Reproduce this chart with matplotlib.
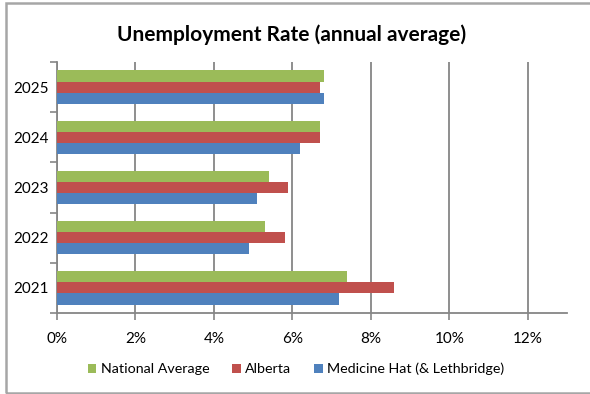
import matplotlib
matplotlib.use("Agg")
import matplotlib.pyplot as plt
import numpy as np
from matplotlib.patches import Rectangle
from matplotlib.ticker import FuncFormatter, MultipleLocator

years = ["2021", "2022", "2023", "2024", "2025"]
national = [7.4, 5.3, 5.4, 6.7, 6.8]
alberta = [8.6, 5.8, 5.9, 6.7, 6.7]
medicine_hat = [7.2, 4.9, 5.1, 6.2, 6.8]
series_names = ["National Average", "Alberta", "Medicine Hat (& Lethbridge)"]
colors = ["#9BBB59", "#C0504D", "#4F81BD"]

plt.rcParams['font.family'] = ['Lato', 'DejaVu Sans']

fig = plt.figure(figsize=(5.9, 3.94), dpi=100)
W, H = 590, 394
ax = fig.add_axes([57 / W, 1 - 313 / H, (567 - 57) / W, (313 - 62) / H])

# figure border
fig.patches.append(Rectangle((6 / W, 1 / H), 1.2, 1 - 4 / H, transform=fig.transFigure,
                             fill=False, edgecolor="#A6A6A6", linewidth=1.8))

y = np.arange(len(years))
h = 0.222
ax.barh(y - h, medicine_hat, height=h, color=colors[2], label=series_names[2], zorder=3)
ax.barh(y, alberta, height=h, color=colors[1], label=series_names[1], zorder=3)
ax.barh(y + h, national, height=h, color=colors[0], label=series_names[0], zorder=3)

ax.set_xlim(0, 13)
ax.set_ylim(-0.5, 4.5)
ax.xaxis.set_major_locator(MultipleLocator(2))
ax.xaxis.set_major_formatter(FuncFormatter(lambda v, p: f"{int(v)}%" if v <= 12 else ""))
ax.set_xticks([0, 2, 4, 6, 8, 10, 12])
ax.grid(axis="x", color="#868686", linewidth=1.3, zorder=0)

ax.set_yticks(y)
ax.set_yticklabels(years)
ax.set_yticks(np.arange(-0.5, 5, 1), minor=True)
ax.tick_params(axis="y", which="major", length=0, pad=6, labelsize=11, colors="#000000")
ax.tick_params(axis="y", which="minor", length=5, color="#868686", width=1.2)
ax.tick_params(axis="x", which="major", length=5, color="#868686", width=1.2, pad=9,
               labelsize=11)

for s in ["top", "right"]:
    ax.spines[s].set_visible(False)
for s in ["left", "bottom"]:
    ax.spines[s].set_color("#868686")
    ax.spines[s].set_linewidth(1.3)

fig.text(292 / W, 1 - 35 / H, "Unemployment Rate (annual average)", ha="center", va="center",
         fontsize=15, fontweight="bold")

handles, labels = ax.get_legend_handles_labels()
order = [2, 1, 0]
fig.legend([handles[i] for i in order], [labels[i] for i in order], loc="center",
           bbox_to_anchor=(296 / W, 1 - 369 / H), ncol=3, frameon=False, fontsize=10.3,
           handlelength=0.6, handleheight=0.6, handletextpad=0.3, columnspacing=1.6)

fig.savefig("out.png", dpi=100)
